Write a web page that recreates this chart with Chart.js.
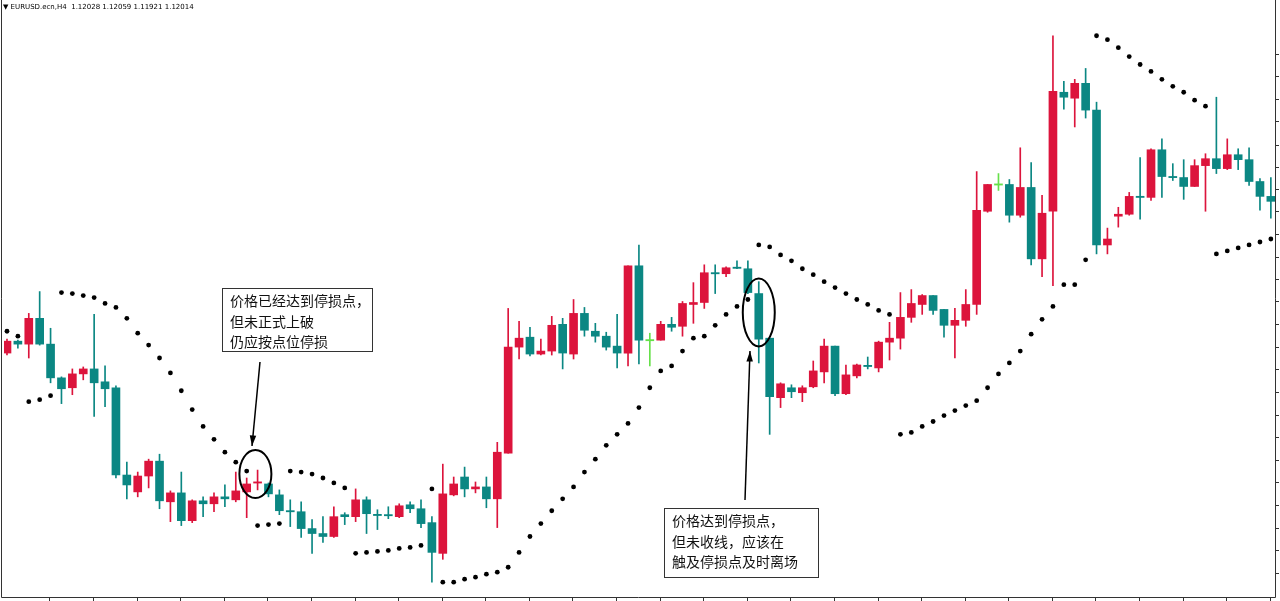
<!DOCTYPE html>
<html><head><meta charset="utf-8">
<script src="https://cdn.jsdelivr.net/npm/chart.js@4.4.1/dist/chart.umd.min.js"></script>
<style>html,body{margin:0;padding:0;background:#fff}#wrap{width:1280px;height:601px}</style>
</head><body><div id="wrap"><canvas id="c"></canvas></div>
<script>
// Values (vertical chart units, larger = lower on screen)
const opens  = [352,340,343,317,343,377,387,373,368,381,387,475,492,476,461,502,493,521,501,504,497,500,492,483,484,495,511,512,529,534,537,515,517,500,515,515,517,505,509,523,554,495,477,489,487,499,453,346,336,353,350,323,353,312,330,335,345,352,264,339,339,323,325,303,301,271,272,265.5,267,292,337,397,387,392,386,371,345,393,375,364.5,367,341,337,316,303,294,308,324,319,303,209,182,182,213,185,257,209,89,95,80,107,243,214,212,194,195,147,174,175,184,163,156,166,152,157,179,194];
const closes = [340,343,317,343,377,388,373,368,382,388,475,485,476,461,501,493,521,501,504,497,499,491,484,482,494,511,512,529,534,537,517,517,500,514,515.5,516,506,509,524,553,494,484,489,487,499,452,346,337,353,350,324,352,312,329,335,346,352,264,339,339,323,326,302,301,271,272,266,266.5,291,338,396,383,391,387,370,345,393,374,364,365.5,341,337,316,302,294,309,324,319,303,208,182,182,213,185,257,211,88,94,80,107,243,237,212,194,195,147,174,175,184,163,156,166,152,157,179,194,199];
const highs  = [338,339,312,290,327,376,368,366,313,365,385,462,472,459,454,491,472,500,497,493,485,472,478,470,483,490,500,502,520,517,507,513,489,497,510,507,504,502,500,517,464,477,467,482,477,442,307,320,326,338,315,317,298,306,322,331,313,264,243,332,320,316,300,281,263,263,265,259,259,280,337,382,384,385,360,338,345,364,363,356,340,321,291,288,293,294,308,307,288,169,182,171,177,145,160,193,32,78,76,65,99,226,205,190,155,146,136,161,157,157,151,94,136,146,145,176,175];
const lows   = [354,347,357,344,382,403,394,379,416,406,478,499,497,488,509,522,526,523,517,512,507,502,518,490,497,515,527,538,554,543,538,525,522,534,530,519,518,513,528,583,560,496,497,493,508,528,453,358,355,354,354,368,358,335,341,349,367,365,363,365,339,330,335,322,307,292,275,267,292,362,434,407,397,401,387,382,395,394,377,368,371,359,348,321,313,313,336,357,325,313,210,188,220,215,263,275,284,106,124,115,252,252,225,213,217,198,195,178,197,184,209,171,167,167,183,208,216];
// Parabolic SAR dots
const sar = [330,335,401,399,395,291,292,294,296,302,306,317,332,344,357,372,390,409,426,439,452,462,471,526,525,524,471,472,474,478,483,488,554,553,552,551,549,548,546,489,583,583,580,578,575,573,568,553,537,524,511,499,487,472,459,445,434,423,407,387,370,365,350,337,335,324,313,305,298,243,245,253,259,267,273,280,286,292,298,303,309,313,434,432,426,421,415,410,405,400,387,373,362,350,333,318,305,283,283,258,32,36,44,53,61,68,76,83,89,97,103,252,249,246,243,240,237];
const xTickEvery = 4;
const yTickValues = [50,73,96,118,142,164,187,209,232,255,277,300,323,346,368,391,414,437,460,482,505,528,551,574];

const UP='#DC143C', DN='#0B8783', DOJI='#66E04A';
const col = opens.map((o,i)=> closes[i]===o ? DOJI : (closes[i]<o ? UP : DN));
const wicks = highs.map((h,i)=>({x:i,y:[h,lows[i]]}));
const bodies = opens.map((o,i)=>{let a=o,b=closes[i]; if(Math.abs(a-b)<1.2){const m=(a+b)/2;a=m-0.6;b=m+0.6;} return {x:i,y:[a,b]};});
const dots = sar.map((v,i)=>({x:i,y:v}));

const deco = {
  id:'deco',
  afterDraw(ch){
    const c=ch.ctx, xs=ch.scales.x, ys=ch.scales.y, a=ch.chartArea;
    c.save();
    c.strokeStyle='#333'; c.lineWidth=1;
    c.beginPath(); c.moveTo(1.5,0); c.lineTo(1.5,a.bottom+0.5); c.lineTo(a.right+0.5,a.bottom+0.5); c.lineTo(a.right+0.5,0); c.stroke();
    c.beginPath();
    for(let i=4;i<opens.length;i+=xTickEvery){const px=Math.round(xs.getPixelForValue(i-0.1))+0.5;c.moveTo(px,a.bottom);c.lineTo(px,a.bottom+4);}
    yTickValues.forEach(v=>{const py=Math.round(ys.getPixelForValue(v))+0.5;c.moveTo(a.right,py);c.lineTo(a.right+4,py);});
    c.stroke();
    // title
    c.fillStyle='#000'; c.font='7px "DejaVu Sans"'; c.textBaseline='middle';
    c.fillText('▼ EURUSD.ecn,H4  1.12028 1.12059 1.11921 1.12014',3,7);
    // ellipses
    c.strokeStyle='#000'; c.lineWidth=2;
    c.beginPath(); c.ellipse(xs.getPixelForValue(22.8),ys.getPixelForValue(474),16,24,0,0,Math.PI*2); c.stroke();
    c.beginPath(); c.ellipse(xs.getPixelForValue(69),ys.getPixelForValue(311),16,34,0,0,Math.PI*2); c.stroke();
    // arrows
    function arrow(x1,y1,x2,y2){c.lineWidth=1.5;c.beginPath();c.moveTo(x1,y1);c.lineTo(x2,y2);c.stroke();
      const ang=Math.atan2(y2-y1,x2-x1),L=11;c.beginPath();c.moveTo(x2,y2);
      c.lineTo(x2-L*Math.cos(ang-0.3),y2-L*Math.sin(ang-0.3));c.lineTo(x2-L*Math.cos(ang+0.3),y2-L*Math.sin(ang+0.3));c.closePath();c.fillStyle='#000';c.fill();}
    arrow(260,362,252,446);
    arrow(745,500,750,351);
    // text boxes
    function box(x,y,w,h,lines){c.fillStyle='#fff';c.fillRect(x,y,w,h);c.strokeStyle='#333';c.lineWidth=1;c.strokeRect(x+0.5,y+0.5,w,h);
      c.fillStyle='#111';c.font='14px "Noto Sans CJK SC"';c.textBaseline='middle';lines.forEach((t,k)=>c.fillText(t,x+8,y+13+k*20.5));}
    box(222,288,150,63,['价格已经达到停损点，','但未正式上破','仍应按点位停损']);
    box(664,508,154,69,['价格达到停损点，','但未收线，应该在','触及停损点及时离场']);
    c.restore();
  }
};

new Chart(document.getElementById('c'),{
  data:{datasets:[
    {type:'bar',data:wicks,backgroundColor:col,barThickness:1,grouped:false,order:3},
    {type:'bar',data:bodies,backgroundColor:col,barThickness:8,grouped:false,order:2},
    {type:'scatter',data:dots,pointRadius:2.4,pointBackgroundColor:'#000',pointBorderWidth:0,order:1}
  ]},
  options:{responsive:true,maintainAspectRatio:false,animation:false,
    layout:{padding:{left:0,right:5,top:0,bottom:3}},
    plugins:{legend:{display:false},tooltip:{enabled:false}},
    scales:{
      x:{type:'linear',display:false,min:-0.274,max:116.38,offset:false},
      y:{type:'linear',display:false,reverse:true,min:0,max:598}
    }
  },
  plugins:[deco]
});
</script></body></html>
